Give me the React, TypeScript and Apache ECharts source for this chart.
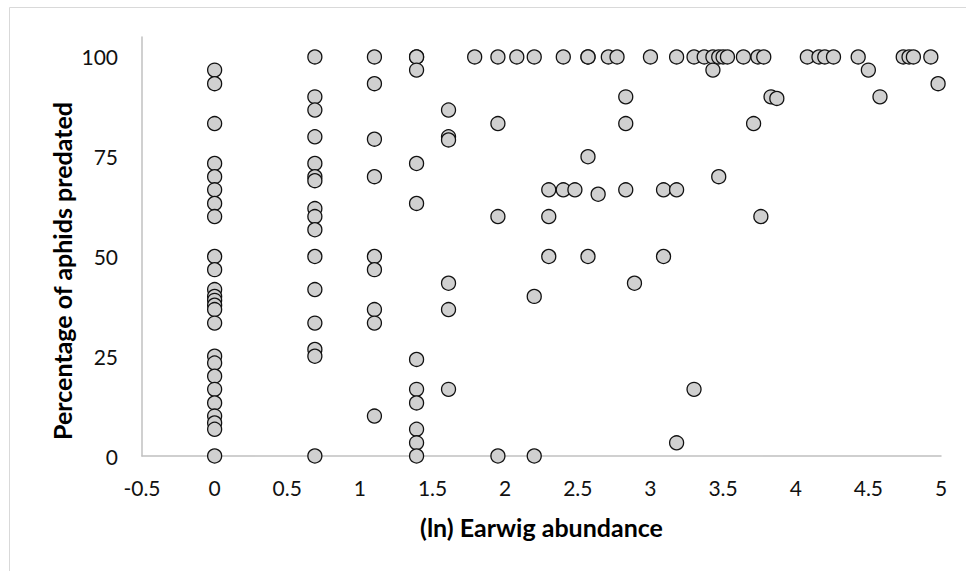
import React, { useEffect, useRef } from "react";
import * as echarts from "echarts";

// (ln) earwig abundance levels
const abundance = [
  0, 0.69, 1.1, 1.39, 1.61, 1.79, 1.95, 2.08, 2.2, 2.3, 2.4, 2.48, 2.57, 2.64,
  2.71, 2.77, 2.83, 2.89, 3.0, 3.09, 3.18, 3.3, 3.37, 3.43, 3.47, 3.5, 3.53,
  3.64, 3.71, 3.74, 3.76, 3.78, 3.83, 3.87, 4.08, 4.16, 4.2, 4.26, 4.43, 4.5,
  4.58, 4.74, 4.78, 4.81, 4.93, 4.98,
];

// percentage of aphids predated at each abundance level
const predated: number[][] = [
  [96.7, 93.3, 83.3, 73.3, 70, 66.7, 63.3, 60, 50, 46.7, 41.7, 40, 39, 37.8, 36.7, 33.3, 25, 23.3, 20, 16.7, 13.3, 10, 8.3, 6.7, 0],
  [100, 90, 86.7, 80, 73.3, 70, 69, 62, 60, 56.7, 50, 41.7, 33.3, 26.7, 25, 0],
  [100, 93.3, 79.4, 70, 50, 46.7, 36.7, 33.3, 10],
  [100, 100, 96.7, 73.3, 63.3, 24.2, 16.7, 13.3, 6.7, 3.3, 0],
  [86.7, 80, 79.2, 43.3, 36.7, 16.7],
  [100],
  [100, 83.3, 60, 0],
  [100],
  [100, 40, 0],
  [66.7, 60, 50],
  [100, 66.7],
  [66.7],
  [100, 100, 75, 50],
  [65.6],
  [100],
  [100],
  [90, 83.3, 66.7],
  [43.3],
  [100],
  [66.7, 50],
  [100, 66.7, 3.3],
  [100, 16.7],
  [100],
  [100, 96.7],
  [100, 70],
  [100],
  [100],
  [100],
  [83.3],
  [100],
  [60],
  [100],
  [90],
  [89.6],
  [100],
  [100],
  [100],
  [100],
  [100],
  [96.7],
  [90],
  [100],
  [100],
  [100],
  [100],
  [93.3],
];

const xAxisTitle = "(ln) Earwig abundance";
const yAxisTitle = "Percentage of aphids predated";

export default function App() {
  const ref = useRef<HTMLDivElement>(null);

  useEffect(() => {
    document.body.style.margin = "0";
    if (!ref.current) return;
    const chart = echarts.init(ref.current, undefined, { renderer: "svg" });
    const points = abundance.flatMap((x, i) => predated[i].map((y) => [x, y]));
    const font = "Lato, 'Open Sans', sans-serif";
    chart.setOption({
      animation: false,
      backgroundColor: "#ffffff",
      graphic: [
        {
          type: "rect",
          shape: { x: 9.5, y: 7.5, width: 1200, height: 1200 },
          style: { fill: "none", stroke: "#d9d9d9", lineWidth: 1 },
          silent: true,
        },
        {
          type: "text",
          x: 62,
          y: 271,
          rotation: Math.PI / 2,
          style: {
            text: yAxisTitle,
            fontFamily: font,
            fontSize: 25,
            fontWeight: "bold",
            fill: "#000",
            align: "center",
            verticalAlign: "middle",
          },
          silent: true,
        },
      ],
      grid: { left: 142, right: 25, top: 37, bottom: 115 },
      xAxis: {
        type: "value",
        min: -0.5,
        max: 5,
        interval: 0.5,
        name: xAxisTitle,
        nameLocation: "middle",
        nameGap: 58,
        nameTextStyle: { fontFamily: font, fontSize: 25, fontWeight: "bold", color: "#000" },
        axisLine: { show: true, onZero: false, lineStyle: { color: "#c0c0c0", width: 1.5 } },
        axisTick: { show: false },
        splitLine: { show: false },
        axisLabel: { fontFamily: font, fontSize: 21, color: "#111", margin: 21 },
      },
      yAxis: {
        type: "value",
        min: 0,
        max: 105,
        interval: 25,
        axisLine: { show: true, onZero: false, lineStyle: { color: "#c0c0c0", width: 1.5 } },
        axisTick: { show: false },
        splitLine: { show: false },
        axisLabel: { fontFamily: font, fontSize: 21, color: "#111", margin: 24, showMaxLabel: false },
      },
      series: [
        {
          type: "scatter",
          data: points,
          symbol: "circle",
          symbolSize: 14,
          itemStyle: { color: "#d0d0d0", borderColor: "#111", borderWidth: 1.3, opacity: 1 },
        },
      ],
    });
    return () => chart.dispose();
  }, []);

  return <div ref={ref} style={{ width: 966, height: 571 }} />;
}
